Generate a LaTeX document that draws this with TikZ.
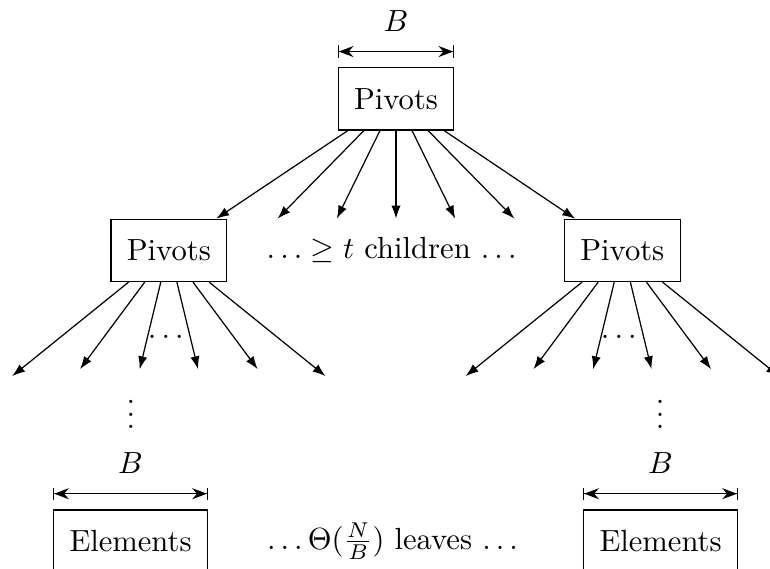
\documentclass[tikz,border=0pt]{standalone}
\usepackage{amsmath,amssymb}
\usepackage{tikz}
\usetikzlibrary{positioning, arrows.meta}

\begin{document}
\begin{tikzpicture}[>={Latex[length=4.2pt,width=3pt]}, block/.style={draw, inner xsep=5.2pt, minimum height=0.715cm}, span/.style={{Bar[width=4pt]Stealth[]}-{Stealth[]Bar[width=4pt]}}]
    \useasboundingbox (-4.55,1.137) rectangle (4.297,-5.40);

    \node[block] (top) at (0,0) {Pivots};
    \node[block] (lp) at (-2.61,-1.74) {Pivots};
    \node[block] (rp) at (2.60,-1.74) {Pivots};
    \node (kids) at (-0.05,-1.74) {$\ldots \geq t$ children $\ldots$};
    \node[block] (le) at (-3.05,-5.08) {Elements};
    \node[block] (re) at (3.04,-5.08) {Elements};
    \node (lvs) at (-0.04,-5.08) {$\ldots\Theta(\frac{N}{B})$ leaves $\ldots$};
    \node (ld) at (-3.045,-3.52) {$\vdots$};
    \node (rd) at (3.035,-3.52) {$\vdots$};
    \node (lh) at ([shift={(-0.035,-0.99)}]lp.center) {$\ldots$};
    \node (rh) at ([shift={(-0.04,-0.99)}]rp.center) {$\ldots$};

    \draw[span] ([yshift=0.18cm]top.north west) -- node[above=3pt] {$B$} ([yshift=0.18cm]top.north east);
    \draw[span] ([yshift=0.18cm]le.north west) -- node[above=3pt] {$B$} ([yshift=0.18cm]le.north east);
    \draw[span] ([yshift=0.18cm]re.north west) -- node[above=3pt] {$B$} ([yshift=0.18cm]re.north east);

    \foreach \i in {-2,...,2} {
        \coordinate (c\i) at ([shift={(\i*0.68,-1.01)}]top.south);
        \draw[->] ([xshift=\i*0.185cm]top.south) -- (c\i);
    }
    \draw[->] ([xshift=-0.555cm]top.south) -- (lp);
    \draw[->] ([xshift=0.555cm]top.south) -- (rp);

    \foreach \p in {lp, rp}
        \foreach \s/\dx/\dy [count=\k] in {-0.4625/-1.80/-1.08, -0.2775/-1.02/-1.0, -0.0925/-0.335/-1.0, 0.0925/0.335/-1.0, 0.2775/1.02/-1.0, 0.4625/1.80/-1.08} {
            \coordinate (\p-\k) at ([shift={(\dx,\dy)}]\p.south);
            \draw[->] ([xshift=\s cm]\p.south) -- (\p-\k);
        }
\end{tikzpicture}
\end{document}
